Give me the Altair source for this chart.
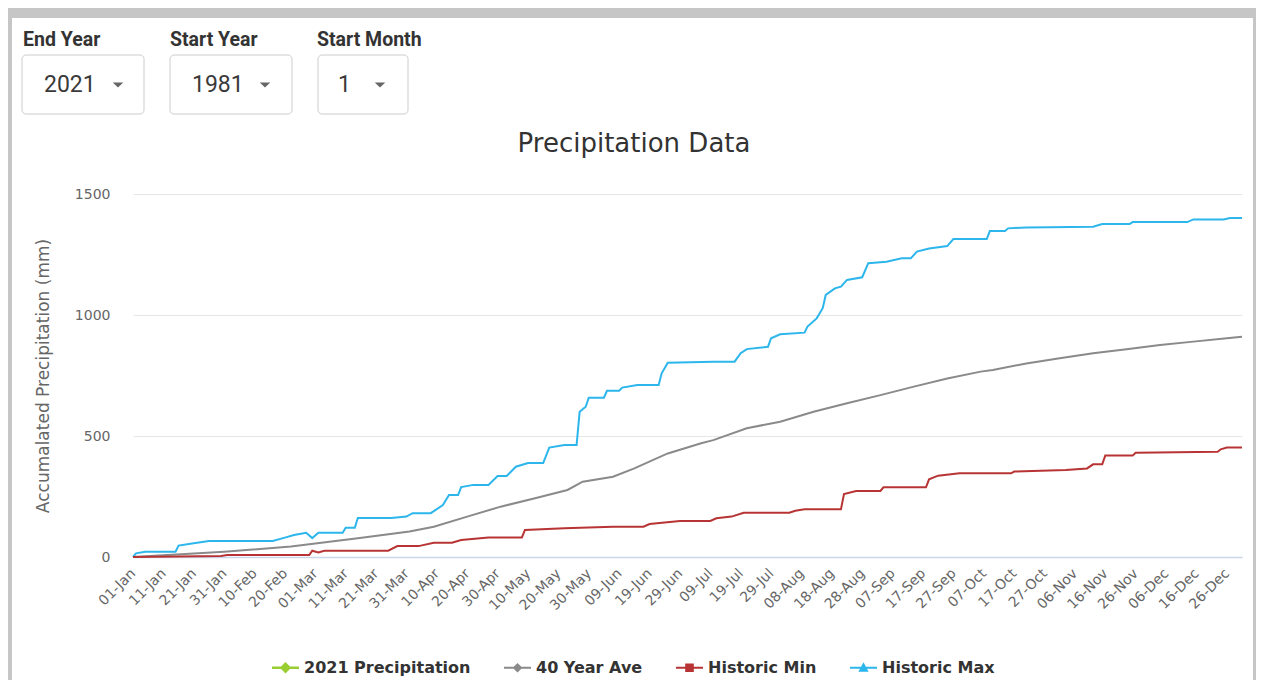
import altair as alt
import pandas as pd

# ---------------- data ----------------
series_names = ["2021 Precipitation", "40 Year Ave", "Historic Min", "Historic Max"]
series_colors = ["#9ACD32", "#8A8A8A", "#B83434", "#2DB6EC"]

max_days = [0, 1, 4, 14, 15, 20, 25, 46, 50, 53, 57, 59, 61, 69, 70, 73, 74, 85, 90, 92,
            98, 102, 104, 107, 108, 112, 117, 120, 123, 126, 130, 135, 137, 142, 146, 147, 149, 150, 155, 156,
            160, 161, 166, 173, 174, 176, 191, 198, 200, 202, 209, 210, 213, 221, 222, 225, 227, 228, 231, 233,
            235, 240, 242, 248, 253, 256, 258, 262, 268, 270, 281, 282, 287, 288, 294, 316, 319, 328, 329, 347,
            349, 359, 361, 365]
max_vals = [0, 15, 22, 22, 47, 57, 66, 66, 80, 91, 100, 78, 100, 100, 121, 121, 161, 161, 167, 181,
            181, 215, 256, 256, 289, 298, 298, 335, 335, 373, 388, 388, 452, 463, 463, 600, 621, 658, 658, 687,
            687, 700, 711, 711, 759, 803, 807, 807, 842, 859, 869, 904, 920, 927, 952, 986, 1028, 1083, 1110, 1117,
            1145, 1156, 1214, 1220, 1234, 1234, 1262, 1275, 1285, 1314, 1314, 1347, 1347, 1358, 1362, 1365, 1376, 1376, 1384, 1384,
            1395, 1395, 1401, 1401]

ave_days = [0, 30, 52, 74, 91, 99, 110, 121, 132, 143, 148, 158, 165, 176, 187, 191, 202, 213, 224, 235,
            246, 257, 268, 279, 283, 294, 305, 316, 327, 338, 349, 360, 365]
ave_vals = [0, 22, 43, 77, 105, 125, 167, 208, 242, 277, 311, 332, 366, 428, 470, 483, 532, 559, 600, 635,
            669, 704, 738, 766, 773, 800, 821, 842, 858, 876, 890, 904, 910]

min_days = [0, 29, 31, 58, 59, 61, 63, 84, 87, 94, 99, 105, 108, 117, 128, 129, 142, 158, 168, 170,
            180, 190, 192, 197, 201, 216, 218, 221, 233, 234, 238, 246, 247, 261, 262, 265, 272, 289, 290, 307,
            314, 316, 319, 320, 329, 330, 357, 358, 360, 365]
min_vals = [0, 4, 8, 8, 26, 19, 26, 26, 45, 45, 59, 59, 70, 81, 81, 112, 119, 125, 125, 136,
            149, 149, 160, 167, 183, 183, 191, 197, 197, 260, 273, 273, 288, 288, 321, 336, 346, 346, 353, 360,
            366, 383, 383, 419, 419, 431, 435, 445, 452, 452]

tick_days = list(range(0, 361, 10))
tick_labels = ["01-Jan", "11-Jan", "21-Jan", "31-Jan", "10-Feb", "20-Feb", "01-Mar", "11-Mar", "21-Mar",
               "31-Mar", "10-Apr", "20-Apr", "30-Apr", "10-May", "20-May", "30-May", "09-Jun", "19-Jun",
               "29-Jun", "09-Jul", "19-Jul", "29-Jul", "08-Aug", "18-Aug", "28-Aug", "07-Sep", "17-Sep",
               "27-Sep", "07-Oct", "17-Oct", "27-Oct", "06-Nov", "16-Nov", "26-Nov", "06-Dec", "16-Dec", "26-Dec"]
y_ticks = [0, 500, 1000, 1500]

title_text = "Precipitation Data"
y_title = "Accumalated Precipitation (mm)"
widget_labels = ["End Year", "Start Year", "Start Month"]
widget_values = ["2021", "1981", "1"]

# ---------------- build table ----------------
rows = []
for name, days, vals in [("Historic Max", max_days, max_vals),
                         ("40 Year Ave", ave_days, ave_vals),
                         ("Historic Min", min_days, min_vals)]:
    for d, v in zip(days, vals):
        rows.append({"series": name, "day": d, "value": v})
df = pd.DataFrame(rows)
one = pd.DataFrame({"k": [0]})

W, H = 1109, 363
FONT = "DejaVu Sans"

label_expr = "[" + ",".join("'%s'" % t for t in tick_labels) + "][round(datum.value/10)]"

x_scale = alt.Scale(domain=[0, 365], nice=False, zero=False)
y_scale = alt.Scale(domain=[0, 1500], nice=False)

x_axis = alt.Axis(values=tick_days, labelExpr=label_expr, labelAngle=315,
                  labelAlign="right", labelBaseline="middle", labelPadding=14,
                  labelOverlap=False, labelFlush=False, grid=False, ticks=False,
                  domainColor="#ccd6eb", domainWidth=1.5, title=None,
                  labelFont=FONT, labelFontSize=14, labelColor="#666666")
y_axis = alt.Axis(values=y_ticks, format="d", title=y_title, domain=False, ticks=False, tickSize=0,
                  labelPadding=23, gridColor="#e6e6e6", gridWidth=1, labelOverlap=False,
                  labelFont=FONT, labelFontSize=14, labelColor="#666666",
                  titleFont=FONT, titleFontSize=17, titleFontWeight="normal",
                  titleColor="#666666", titleX=-90, titleY=H / 2, titleAngle=270,
                  titleAlign="center", titleBaseline="middle")

shape_paths = [
    "M-1,-0.1H1V0.1H-1Z M0,-0.42L0.42,0L0,0.42L-0.42,0Z",
    "M-1,-0.08H1V0.08H-1Z M0,-0.36L0.36,0L0,0.36L-0.36,0Z",
    "M-1,-0.08H1V0.08H-1Z M-0.32,-0.32H0.32V0.32H-0.32Z",
    "M-1,-0.08H1V0.08H-1Z M0,-0.4L0.38,0.3H-0.38Z",
]

legend = alt.Legend(orient="none", legendX=139, legendY=460, direction="horizontal", title=None,
                    labelFont=FONT, labelFontSize=16, labelFontWeight="bold", labelColor="#333333",
                    symbolSize=729, symbolStrokeWidth=0, labelOffset=5, columnPadding=33,
                    padding=0, labelLimit=400)

line_layers = []
for name, days, vals in [("Historic Max", max_days, max_vals),
                         ("40 Year Ave", ave_days, ave_vals),
                         ("Historic Min", min_days, min_vals)]:
    col = series_colors[series_names.index(name)]
    line_layers.append(
        alt.Chart(df).transform_filter(alt.datum.series == name).mark_line(strokeWidth=2, color=col).encode(
            x=alt.X("day:Q", scale=x_scale, axis=x_axis),
            y=alt.Y("value:Q", scale=y_scale, axis=y_axis),
        )
    )

legend_layer = alt.Chart(df).transform_filter("datum.value < 0").mark_point(filled=True, opacity=1).encode(
    color=alt.Color("series:N", scale=alt.Scale(domain=series_names, range=series_colors), legend=legend),
    shape=alt.Shape("series:N", scale=alt.Scale(domain=series_names, range=shape_paths), legend=legend),
)

# ---------------- page frame / widgets ----------------
frame_color = "#c6c6c6"
strips = [(-125, 1123, -186, -176), (-125, -121, -176, 486), (1120, 1123, -176, 486)]
deco = []
for x0, x1, y0, y1 in strips:
    deco.append(alt.Chart(one).mark_rect(color=frame_color).encode(
        x=alt.value(x0), x2=alt.value(x1), y=alt.value(y0), y2=alt.value(y1)))

boxes = [(-111, 11), (37, 159), (185, 275)]
label_x = [-110, 37, 184]
value_x = [-89, 59, 205]
arrow_x = [-15, 132, 247]
for i in range(3):
    deco.append(alt.Chart(one).mark_rect(fill="white", stroke="#cccccc", strokeWidth=1, cornerRadius=4).encode(
        x=alt.value(boxes[i][0]), x2=alt.value(boxes[i][1]), y=alt.value(-139), y2=alt.value(-80)))
    deco.append(alt.Chart(one).mark_text(text=widget_labels[i], font="Roboto", fontSize=19.5,
                                         fontWeight="bold", color="#333333", align="left",
                                         baseline="middle").encode(
        x=alt.value(label_x[i]), y=alt.value(-154)))
    deco.append(alt.Chart(one).mark_text(text=widget_values[i], font="Roboto", fontSize=23,
                                         color="#3a3a3a", align="left", baseline="middle").encode(
        x=alt.value(value_x[i]), y=alt.value(-109)))
    deco.append(alt.Chart(one).mark_point(shape="M-1,-0.5L1,-0.5L0,0.5Z", filled=True, size=110,
                                          color="#666666", opacity=1).encode(
        x=alt.value(arrow_x[i]), y=alt.value(-109)))

title_layer = alt.Chart(one).mark_text(text=title_text, font=FONT, fontSize=26, color="#333333",
                                       align="center", baseline="middle").encode(
    x=alt.value(501), y=alt.value(-50))

chart = alt.layer(*deco, title_layer, *line_layers, legend_layer).properties(
    width=W, height=H, padding=0, background="white"
).configure_view(stroke=None).configure_axisX(labelOverlap=False)

chart.save("out.html", embed_options={"renderer": "svg", "actions": False})
